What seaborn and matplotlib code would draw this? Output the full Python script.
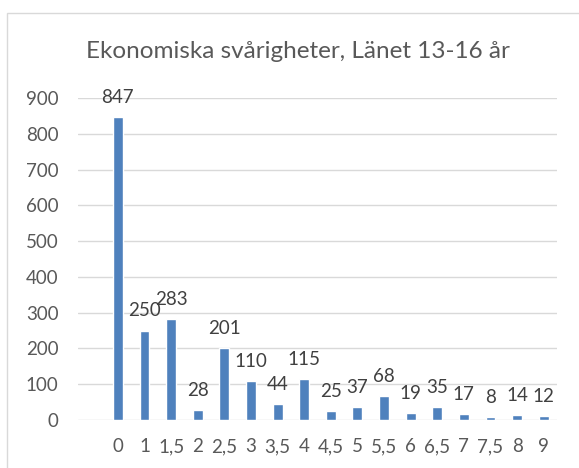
import matplotlib
matplotlib.use("Agg")
import matplotlib.pyplot as plt
from matplotlib.patches import Rectangle
import seaborn as sns
import pandas as pd

# Chart data
categories = ["0", "1", "1,5", "2", "2,5", "3", "3,5", "4", "4,5", "5",
              "5,5", "6", "6,5", "7", "7,5", "8", "9"]
values = [847, 250, 283, 28, 201, 110, 44, 115, 25, 37, 68, 19, 35, 17, 8, 14, 12]
y_ticks = list(range(0, 1000, 100))
title = "Ekonomiska svårigheter, Länet 13-16 år"

sns.set_theme(style="white")
plt.rcParams["font.family"] = ["Lato", "DejaVu Sans"]

df = pd.DataFrame({"kategori": categories, "antal": values})

fig = plt.figure(figsize=(5.79, 4.68), dpi=100)
ax = fig.add_axes([0.1347, 0.1026, 0.962 - 0.1347, 0.7906 - 0.1026])

sns.barplot(data=df, x="kategori", y="antal", color="#4F81BD", saturation=1,
            width=0.37, ax=ax, zorder=3)

# leave one empty slot to the left of the first category
ax.set_xlim(-1.5, len(categories) - 0.5)
ax.set_ylim(0, 900)
ax.set_yticks(y_ticks)
ax.yaxis.grid(True, color="#D9D9D9", linewidth=1.0, zorder=0)
ax.set_axisbelow(True)
for s in ax.spines.values():
    s.set_visible(False)
ax.set_xlabel("")
ax.set_ylabel("")
ax.tick_params(axis="y", length=0, pad=14, labelsize=13.5, labelcolor="#595959")
ax.tick_params(axis="x", length=0, pad=13, labelsize=13.5, labelcolor="#595959")

for i, v in enumerate(values):
    ax.annotate(str(v), (i, v), xytext=(0, 8), textcoords="offset points",
                ha="center", va="bottom", fontsize=13.5, color="#404040")

fig.text(298 / 579, 1 - 52 / 468, title, ha="center", va="center",
         fontsize=17.5, color="#595959")

# outer chart frame
fig.patches.append(Rectangle((7 / 579, -0.2), 2, 1.2 - 13 / 468, transform=fig.transFigure,
                             fill=False, edgecolor="#D9D9D9", linewidth=1.0))

fig.savefig("out.png", dpi=100, facecolor="white")
